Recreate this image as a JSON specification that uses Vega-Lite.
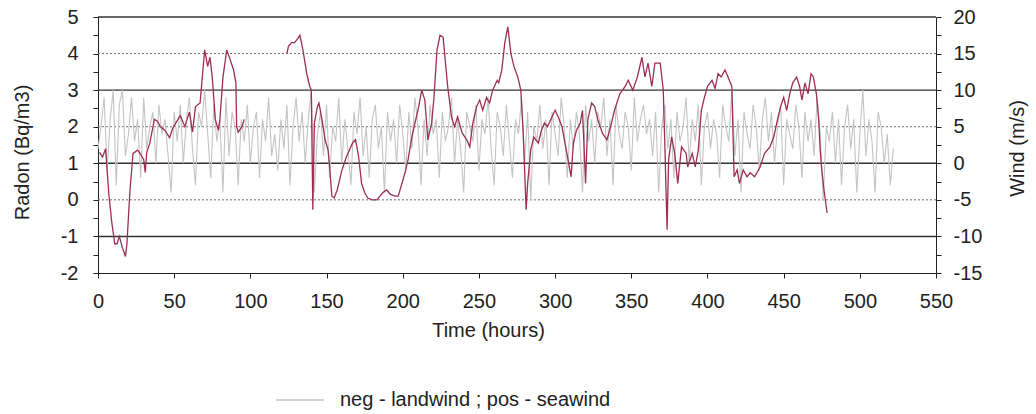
{
"$schema": "https://vega.github.io/schema/vega-lite/v6.json",
"width": 838, "height": 256,
"autosize": "none",
"padding": {"left": 98, "top": 17, "right": 100, "bottom": 141},
"background": "white",
"config": {
 "view": {"stroke": null},
 "font": "Liberation Sans",
 "axis": {"labelFontSize": 20, "titleFontSize": 20, "titleFontWeight": "normal", "labelColor": "#222", "titleColor": "#222", "domainColor": "#222", "tickColor": "#222", "tickSize": 5, "labelOverlap": false, "grid": false, "labelFont": "Liberation Sans", "titleFont": "Liberation Sans"},
 "legend": {"labelFont": "Liberation Sans"}
},
"datasets": {
 "gridSolid": [{"v": 20}, {"v": 10}, {"v": 0}, {"v": -10}],
 "gridDot": [{"v": 15}, {"v": 5}, {"v": -5}],
 "radon": [
  {"h":1,"r":1.3,"s":"a"},{"h":3,"r":1.17,"s":"a"},{"h":5,"r":1.4,"s":"a"},{"h":7,"r":0.2,"s":"a"},{"h":9,"r":-0.6,"s":"a"},{"h":11,"r":-1.2,"s":"a"},{"h":12.5,"r":-1.2,"s":"a"},{"h":14,"r":-1.0,"s":"a"},{"h":16,"r":-1.3,"s":"a"},{"h":18,"r":-1.55,"s":"a"},{"h":19,"r":-1.2,"s":"a"},{"h":20,"r":-0.45,"s":"a"},{"h":21,"r":0.27,"s":"a"},{"h":23,"r":1.27,"s":"a"},{"h":26,"r":1.36,"s":"a"},{"h":28,"r":1.25,"s":"a"},{"h":30,"r":1.1,"s":"a"},{"h":31,"r":0.75,"s":"a"},{"h":32,"r":1.3,"s":"a"},{"h":34,"r":1.55,"s":"a"},{"h":37,"r":2.2,"s":"a"},{"h":39,"r":2.15,"s":"a"},{"h":41,"r":2.0,"s":"a"},{"h":44,"r":1.9,"s":"a"},{"h":47,"r":1.7,"s":"a"},{"h":49,"r":1.95,"s":"a"},{"h":51,"r":2.1,"s":"a"},{"h":54,"r":2.3,"s":"a"},{"h":57,"r":2.0,"s":"a"},{"h":60,"r":2.4,"s":"a"},{"h":62,"r":1.85,"s":"a"},{"h":64,"r":2.55,"s":"a"},{"h":67,"r":2.65,"s":"a"},{"h":70,"r":4.1,"s":"a"},{"h":72,"r":3.65,"s":"a"},{"h":73.5,"r":3.9,"s":"a"},{"h":75,"r":3.35,"s":"a"},{"h":77,"r":2.2,"s":"a"},{"h":79,"r":1.9,"s":"a"},{"h":80,"r":2.2,"s":"a"},{"h":82,"r":3.35,"s":"a"},{"h":84.5,"r":4.1,"s":"a"},{"h":87,"r":3.8,"s":"a"},{"h":89,"r":3.55,"s":"a"},{"h":90.5,"r":3.2,"s":"a"},{"h":91,"r":2.0,"s":"a"},{"h":92,"r":1.85,"s":"a"},{"h":94.5,"r":2.0,"s":"a"},{"h":96,"r":2.2,"s":"a"},
  {"h":124,"r":4.0,"s":"b"},{"h":125,"r":4.2,"s":"b"},{"h":127,"r":4.3,"s":"b"},{"h":129,"r":4.3,"s":"b"},{"h":131,"r":4.4,"s":"b"},{"h":132.5,"r":4.5,"s":"b"},{"h":134.5,"r":4.1,"s":"b"},{"h":137,"r":3.45,"s":"b"},{"h":138,"r":3.27,"s":"b"},{"h":139,"r":3.1,"s":"b"},{"h":140,"r":3.0,"s":"b"},{"h":141,"r":-0.27,"s":"b"},{"h":142,"r":2.1,"s":"b"},{"h":144,"r":2.55,"s":"b"},{"h":145,"r":2.65,"s":"b"},{"h":147,"r":2.2,"s":"b"},{"h":149,"r":1.65,"s":"b"},{"h":151,"r":1.36,"s":"b"},{"h":152,"r":0.9,"s":"b"},{"h":153.5,"r":0.1,"s":"b"},{"h":155,"r":0.05,"s":"b"},{"h":157,"r":0.27,"s":"b"},{"h":160,"r":0.8,"s":"b"},{"h":163,"r":1.17,"s":"b"},{"h":167,"r":1.55,"s":"b"},{"h":169,"r":1.65,"s":"b"},{"h":171,"r":1.2,"s":"b"},{"h":173,"r":0.45,"s":"b"},{"h":175,"r":0.2,"s":"b"},{"h":177,"r":0.05,"s":"b"},{"h":180,"r":0.0,"s":"b"},{"h":183,"r":0.0,"s":"b"},{"h":187,"r":0.2,"s":"b"},{"h":189.5,"r":0.27,"s":"b"},{"h":192,"r":0.15,"s":"b"},{"h":195,"r":0.1,"s":"b"},{"h":197,"r":0.1,"s":"b"},{"h":199.5,"r":0.45,"s":"b"},{"h":201.5,"r":0.74,"s":"b"},{"h":203.5,"r":1.1,"s":"b"},{"h":206,"r":1.72,"s":"b"},{"h":208,"r":2.1,"s":"b"},{"h":210,"r":2.45,"s":"b"},{"h":212.5,"r":3.0,"s":"b"},{"h":214.5,"r":2.73,"s":"b"},{"h":216.5,"r":1.64,"s":"b"},{"h":219,"r":2.1,"s":"b"},{"h":220.5,"r":2.8,"s":"b"},{"h":222.5,"r":4.1,"s":"b"},{"h":224.5,"r":4.5,"s":"b"},{"h":226.5,"r":4.45,"s":"b"},{"h":227.5,"r":4.0,"s":"b"},{"h":229.5,"r":3.1,"s":"b"},{"h":232,"r":2.27,"s":"b"},{"h":234,"r":2.0,"s":"b"},{"h":236,"r":2.27,"s":"b"},{"h":239,"r":1.83,"s":"b"},{"h":242,"r":1.64,"s":"b"},{"h":244,"r":1.45,"s":"b"},{"h":246,"r":2.1,"s":"b"},{"h":248.5,"r":2.55,"s":"b"},{"h":250.5,"r":2.73,"s":"b"},{"h":252.5,"r":2.45,"s":"b"},{"h":255,"r":2.8,"s":"b"},{"h":257,"r":2.65,"s":"b"},{"h":259,"r":3.0,"s":"b"},{"h":262,"r":3.27,"s":"b"},{"h":263,"r":3.2,"s":"b"},{"h":265,"r":3.55,"s":"b"},{"h":267,"r":4.3,"s":"b"},{"h":269,"r":4.73,"s":"b"},{"h":271,"r":4.0,"s":"b"},{"h":273,"r":3.65,"s":"b"},{"h":275.5,"r":3.36,"s":"b"},{"h":277.5,"r":3.0,"s":"b"},{"h":279,"r":1.9,"s":"b"},{"h":281,"r":-0.27,"s":"b"},{"h":282,"r":0.45,"s":"b"},{"h":284,"r":1.36,"s":"b"},{"h":286,"r":1.72,"s":"b"},{"h":289,"r":1.55,"s":"b"},{"h":291,"r":1.9,"s":"b"},{"h":293,"r":2.1,"s":"b"},{"h":295,"r":2.0,"s":"b"},{"h":298,"r":2.27,"s":"b"},{"h":300,"r":2.45,"s":"b"},{"h":302,"r":2.27,"s":"b"},{"h":304.5,"r":2.0,"s":"b"},{"h":306.5,"r":1.55,"s":"b"},{"h":308.5,"r":1.1,"s":"b"},{"h":310.5,"r":0.63,"s":"b"},{"h":312,"r":1.55,"s":"b"},{"h":314,"r":1.9,"s":"b"},{"h":316.5,"r":2.1,"s":"b"},{"h":318,"r":2.45,"s":"b"},{"h":320,"r":0.45,"s":"b"},{"h":321.5,"r":2.2,"s":"b"},{"h":324,"r":2.65,"s":"b"},{"h":326,"r":2.55,"s":"b"},{"h":328,"r":2.2,"s":"b"},{"h":331,"r":1.83,"s":"b"},{"h":334,"r":1.64,"s":"b"},{"h":337,"r":2.1,"s":"b"},{"h":339,"r":2.45,"s":"b"},{"h":342.5,"r":2.9,"s":"b"},{"h":346,"r":3.1,"s":"b"},{"h":348,"r":3.27,"s":"b"},{"h":351,"r":3.0,"s":"b"},{"h":354,"r":3.36,"s":"b"},{"h":357,"r":3.9,"s":"b"},{"h":359,"r":3.36,"s":"b"},{"h":361,"r":3.74,"s":"b"},{"h":363.5,"r":3.1,"s":"b"},{"h":365.5,"r":3.74,"s":"b"},{"h":369,"r":3.74,"s":"b"},{"h":371,"r":3.0,"s":"b"},{"h":372,"r":1.55,"s":"b"},{"h":373.5,"r":-0.82,"s":"b"},{"h":374.5,"r":1.1,"s":"b"},{"h":376.5,"r":1.72,"s":"b"},{"h":378.5,"r":1.27,"s":"b"},{"h":380.5,"r":0.45,"s":"b"},{"h":383,"r":1.45,"s":"b"},{"h":386,"r":1.27,"s":"b"},{"h":387,"r":0.9,"s":"b"},{"h":390,"r":1.27,"s":"b"},{"h":392,"r":0.9,"s":"b"},{"h":394,"r":1.36,"s":"b"},{"h":396,"r":2.45,"s":"b"},{"h":398,"r":2.8,"s":"b"},{"h":400,"r":3.1,"s":"b"},{"h":403,"r":3.27,"s":"b"},{"h":405,"r":3.05,"s":"b"},{"h":407,"r":3.45,"s":"b"},{"h":409,"r":3.36,"s":"b"},{"h":411.5,"r":3.55,"s":"b"},{"h":413.5,"r":3.36,"s":"b"},{"h":416,"r":3.1,"s":"b"},{"h":417.5,"r":0.63,"s":"b"},{"h":419.5,"r":0.82,"s":"b"},{"h":421,"r":0.45,"s":"b"},{"h":423.5,"r":0.82,"s":"b"},{"h":426,"r":0.63,"s":"b"},{"h":428,"r":0.74,"s":"b"},{"h":431,"r":0.63,"s":"b"},{"h":434.5,"r":0.9,"s":"b"},{"h":437.5,"r":1.27,"s":"b"},{"h":441,"r":1.45,"s":"b"},{"h":443.5,"r":1.72,"s":"b"},{"h":446,"r":2.2,"s":"b"},{"h":448,"r":2.55,"s":"b"},{"h":450,"r":2.8,"s":"b"},{"h":452,"r":2.45,"s":"b"},{"h":454,"r":2.9,"s":"b"},{"h":456,"r":3.2,"s":"b"},{"h":458.5,"r":3.36,"s":"b"},{"h":460.5,"r":3.1,"s":"b"},{"h":462,"r":2.73,"s":"b"},{"h":464,"r":3.2,"s":"b"},{"h":466,"r":2.9,"s":"b"},{"h":468,"r":3.45,"s":"b"},{"h":469.5,"r":3.36,"s":"b"},{"h":471.5,"r":2.9,"s":"b"},{"h":473,"r":2.2,"s":"b"},{"h":474,"r":1.36,"s":"b"},{"h":475,"r":0.82,"s":"b"},{"h":476.5,"r":0.27,"s":"b"},{"h":478.5,"r":-0.36,"s":"b"}
 ],
 "wind": [
  {"h":0,"w":2},{"h":2,"w":5},{"h":4,"w":9},{"h":6,"w":-1},{"h":8,"w":6},{"h":10,"w":10},{"h":12,"w":-3},{"h":14,"w":8},{"h":16,"w":10},{"h":18,"w":1},{"h":20,"w":4},{"h":22,"w":9},
  {"h":24,"w":3},{"h":26,"w":6},{"h":28,"w":-2},{"h":30,"w":9},{"h":32,"w":2},{"h":34,"w":5},{"h":36,"w":7},{"h":38,"w":0},{"h":40,"w":8},{"h":42,"w":4},{"h":44,"w":6},{"h":46,"w":1},
  {"h":48,"w":-4},{"h":50,"w":7},{"h":52,"w":3},{"h":54,"w":8},{"h":56,"w":0},{"h":58,"w":6},{"h":60,"w":9},{"h":62,"w":2},{"h":64,"w":-3},{"h":66,"w":7},{"h":68,"w":5},{"h":70,"w":10},
  {"h":72,"w":4},{"h":74,"w":-2},{"h":76,"w":8},{"h":78,"w":3},{"h":80,"w":6},{"h":82,"w":-4},{"h":84,"w":9},{"h":86,"w":1},{"h":88,"w":7},{"h":90,"w":5},{"h":92,"w":-3},{"h":94,"w":6},
  {"h":96,"w":3},{"h":98,"w":8},{"h":100,"w":0},{"h":102,"w":5},{"h":104,"w":7},{"h":106,"w":-2},{"h":108,"w":6},{"h":110,"w":3},{"h":112,"w":9},{"h":114,"w":1},{"h":116,"w":4},{"h":118,"w":-1},
  {"h":120,"w":6},{"h":122,"w":2},{"h":124,"w":8},{"h":126,"w":-3},{"h":128,"w":5},{"h":130,"w":9},{"h":132,"w":3},{"h":134,"w":7},{"h":136,"w":0},{"h":138,"w":6},{"h":140,"w":10},{"h":142,"w":-4},
  {"h":144,"w":4},{"h":146,"w":7},{"h":148,"w":1},{"h":150,"w":8},{"h":152,"w":-2},{"h":154,"w":5},{"h":156,"w":3},{"h":158,"w":9},{"h":160,"w":0},{"h":162,"w":6},{"h":164,"w":2},{"h":166,"w":-3},
  {"h":168,"w":7},{"h":170,"w":4},{"h":172,"w":9},{"h":174,"w":1},{"h":176,"w":5},{"h":178,"w":-2},{"h":180,"w":6},{"h":182,"w":8},{"h":184,"w":2},{"h":186,"w":5},{"h":188,"w":-4},{"h":190,"w":7},
  {"h":192,"w":3},{"h":194,"w":6},{"h":196,"w":0},{"h":198,"w":8},{"h":200,"w":4},{"h":202,"w":-1},{"h":204,"w":7},{"h":206,"w":2},{"h":208,"w":9},{"h":210,"w":5},{"h":212,"w":-3},{"h":214,"w":6},
  {"h":216,"w":1},{"h":218,"w":8},{"h":220,"w":4},{"h":222,"w":6},{"h":224,"w":-2},{"h":226,"w":7},{"h":228,"w":3},{"h":230,"w":5},{"h":232,"w":9},{"h":234,"w":0},{"h":236,"w":6},{"h":238,"w":2},
  {"h":240,"w":-4},{"h":242,"w":7},{"h":244,"w":5},{"h":246,"w":3},{"h":248,"w":8},{"h":250,"w":-1},{"h":252,"w":6},{"h":254,"w":4},{"h":256,"w":9},{"h":258,"w":2},{"h":260,"w":-3},{"h":262,"w":7},
  {"h":264,"w":5},{"h":266,"w":1},{"h":268,"w":8},{"h":270,"w":3},{"h":272,"w":-2},{"h":274,"w":6},{"h":276,"w":4},{"h":278,"w":9},{"h":280,"w":0},{"h":282,"w":7},{"h":284,"w":-5},{"h":286,"w":5},
  {"h":288,"w":3},{"h":290,"w":8},{"h":292,"w":2},{"h":294,"w":6},{"h":296,"w":-3},{"h":298,"w":7},{"h":300,"w":4},{"h":302,"w":1},{"h":304,"w":9},{"h":306,"w":5},{"h":308,"w":-2},{"h":310,"w":6},
  {"h":312,"w":2},{"h":314,"w":7},{"h":316,"w":4},{"h":318,"w":-4},{"h":320,"w":8},{"h":322,"w":3},{"h":324,"w":6},{"h":326,"w":0},{"h":328,"w":7},{"h":330,"w":5},{"h":332,"w":9},{"h":334,"w":1},
  {"h":336,"w":6},{"h":338,"w":-3},{"h":340,"w":8},{"h":342,"w":4},{"h":344,"w":2},{"h":346,"w":7},{"h":348,"w":5},{"h":350,"w":-1},{"h":352,"w":9},{"h":354,"w":3},{"h":356,"w":6},{"h":358,"w":8},
  {"h":360,"w":4},{"h":362,"w":6},{"h":364,"w":1},{"h":366,"w":7},{"h":368,"w":-4},{"h":370,"w":5},{"h":372,"w":8},{"h":374,"w":2},{"h":376,"w":6},{"h":378,"w":-2},{"h":380,"w":7},{"h":382,"w":3},
  {"h":384,"w":5},{"h":386,"w":9},{"h":388,"w":0},{"h":390,"w":6},{"h":392,"w":3},{"h":394,"w":8},{"h":396,"w":-3},{"h":398,"w":5},{"h":400,"w":7},{"h":402,"w":2},{"h":404,"w":6},{"h":406,"w":4},
  {"h":408,"w":-2},{"h":410,"w":8},{"h":412,"w":5},{"h":414,"w":3},{"h":416,"w":10},{"h":418,"w":1},{"h":420,"w":6},{"h":422,"w":-4},{"h":424,"w":7},{"h":426,"w":4},{"h":428,"w":2},{"h":430,"w":8},
  {"h":432,"w":5},{"h":434,"w":-1},{"h":436,"w":6},{"h":438,"w":9},{"h":440,"w":3},{"h":442,"w":7},{"h":444,"w":0},{"h":446,"w":5},{"h":448,"w":8},{"h":450,"w":-3},{"h":452,"w":6},{"h":454,"w":4},
  {"h":456,"w":2},{"h":458,"w":8},{"h":460,"w":5},{"h":462,"w":-2},{"h":464,"w":7},{"h":466,"w":3},{"h":468,"w":6},{"h":470,"w":1},{"h":472,"w":9},{"h":474,"w":4},{"h":476,"w":-5},{"h":478,"w":5},
  {"h":480,"w":3},{"h":482,"w":7},{"h":484,"w":0},{"h":486,"w":6},{"h":488,"w":-3},{"h":490,"w":5},{"h":492,"w":8},{"h":494,"w":2},{"h":496,"w":6},{"h":498,"w":-4},{"h":500,"w":4},{"h":502,"w":10},
  {"h":504,"w":1},{"h":506,"w":6},{"h":508,"w":3},{"h":510,"w":-4},{"h":512,"w":7},{"h":514,"w":5},{"h":516,"w":0},{"h":518,"w":4},{"h":520,"w":-3},{"h":522,"w":2}
 ]
},
"layer": [
 {
  "layer": [
   {"data": {"name": "gridSolid"}, "mark": {"type": "rule", "color": "#333333", "strokeWidth": 1.4},
    "encoding": {"y": {"field": "v", "type": "quantitative", "scale": {"domain": [-15, 20], "nice": false, "zero": false},
      "axis": {"orient": "right", "values": [-15,-12.5,-10,-7.5,-5,-2.5,0,2.5,5,7.5,10,12.5,15,17.5,20], "labelExpr": "datum.value % 5 === 0 ? '' + datum.value : ''", "labelOverlap": false, "labelPadding": 12, "title": "Wind (m/s)", "titleAngle": -90, "titleBaseline": "alphabetic", "titleX": 87, "titleY": 131, "titleAlign": "center"}}}},
   {"data": {"name": "gridDot"}, "mark": {"type": "rule", "color": "#6e6e6e", "strokeWidth": 1, "strokeDash": [2, 2]},
    "encoding": {"y": {"field": "v", "type": "quantitative",
      "axis": {"orient": "right", "values": [-15,-12.5,-10,-7.5,-5,-2.5,0,2.5,5,7.5,10,12.5,15,17.5,20], "labelExpr": "datum.value % 5 === 0 ? '' + datum.value : ''", "labelOverlap": false, "labelPadding": 12, "title": "Wind (m/s)", "titleAngle": -90, "titleBaseline": "alphabetic", "titleX": 87, "titleY": 131, "titleAlign": "center"}}}},
   {"data": {"name": "wind"}, "mark": {"type": "line", "strokeWidth": 1.1, "interpolate": "linear"},
    "encoding": {
     "x": {"field": "h", "type": "quantitative", "scale": {"domain": [0, 550], "nice": false, "zero": false},
      "axis": {"values": [0,25,50,75,100,125,150,175,200,225,250,275,300,325,350,375,400,425,450,475,500,525,550], "labelExpr": "datum.value % 50 === 0 ? '' + datum.value : ''", "labelOverlap": false, "labelFlush": false, "labelPadding": 13, "title": "Time (hours)", "titleX": 390, "titleY": 47, "titleBaseline": "top", "titleAlign": "center"}},
     "y": {"field": "w", "type": "quantitative",
      "axis": {"orient": "right", "values": [-15,-12.5,-10,-7.5,-5,-2.5,0,2.5,5,7.5,10,12.5,15,17.5,20], "labelExpr": "datum.value % 5 === 0 ? '' + datum.value : ''", "labelOverlap": false, "labelPadding": 12, "title": "Wind (m/s)", "titleAngle": -90, "titleBaseline": "alphabetic", "titleX": 87, "titleY": 131, "titleAlign": "center"}},
     "stroke": {"datum": "neg - landwind ; pos - seawind", "type": "nominal", "scale": {"range": ["#c4c4c4"]},
      "legend": {"orient": "none", "legendX": 177, "legendY": 358, "title": null, "symbolType": "stroke", "symbolSize": 2304, "symbolStrokeWidth": 1.5, "symbolStrokeColor": "#b8b8b8", "labelFontSize": 20, "labelOffset": 15, "labelLimit": 500, "labelColor": "#222", "padding": 0}}
    }}
  ]
 },
 {"data": {"name": "radon"}, "mark": {"type": "line", "color": "#9c2f52", "strokeWidth": 1.3},
  "encoding": {
   "x": {"field": "h", "type": "quantitative"},
   "detail": {"field": "s", "type": "nominal"},
   "y": {"field": "r", "type": "quantitative", "scale": {"domain": [-2, 5], "nice": false, "zero": false},
    "axis": {"orient": "left", "values": [-2,-1.5,-1,-0.5,0,0.5,1,1.5,2,2.5,3,3.5,4,4.5,5], "labelExpr": "datum.value % 1 === 0 ? '' + datum.value : ''", "labelOverlap": false, "labelPadding": 15, "title": "Radon (Bq/m3)", "titleAngle": -90, "titleBaseline": "alphabetic", "titleX": -70, "titleY": 135, "titleAlign": "center"}}
  }}
],
"resolve": {"scale": {"y": "independent"}}
}
